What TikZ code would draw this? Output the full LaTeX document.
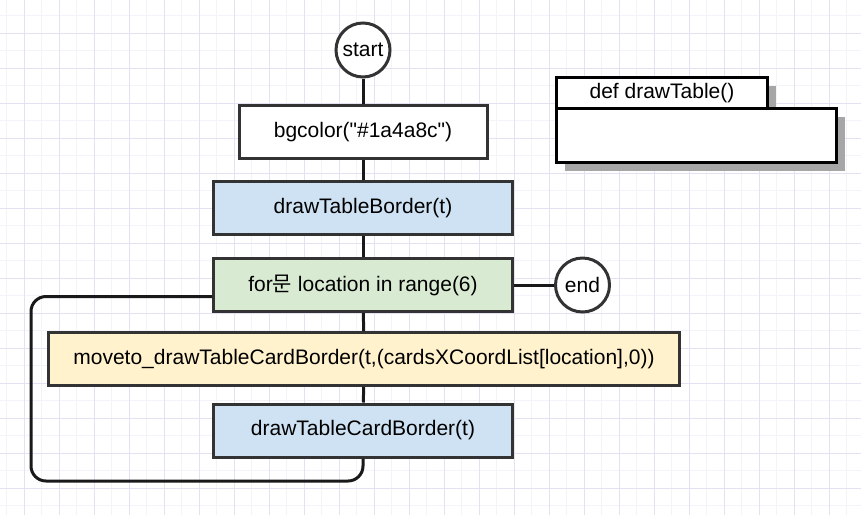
\documentclass[tikz,border=0pt]{standalone}
\usepackage{fontspec}
\setmainfont{Liberation Sans}
\newfontfamily\plainquote{Liberation Sans}
\newfontfamily\krfont{Noto Sans CJK KR}
\usetikzlibrary{shapes.geometric, shadows}
\definecolor{edgegray}{HTML}{333333}
\definecolor{gridmajor}{HTML}{E4E2F2}
\definecolor{gridminor}{HTML}{F4F3F9}
\definecolor{boxblue}{RGB}{207,226,243}
\definecolor{boxgreen}{RGB}{217,234,211}
\definecolor{boxyellow}{RGB}{255,242,204}
\newcommand{\dq}{{\plainquote"}}
\tikzstyle{terminal} = [circle, minimum size=54pt, inner sep=0pt, draw=edgegray, line width=3pt, fill=white, font=\fontsize{21}{24}\selectfont]
\tikzstyle{process} = [rectangle, minimum width=299pt, minimum height=53pt, text centered, draw=edgegray, line width=3pt, font=\fontsize{21}{24}\selectfont]
\tikzstyle{defbox} = [rectangle, draw=black, line width=3pt, fill=white, anchor=north west, inner sep=0pt, drop shadow={shadow xshift=8pt, shadow yshift=-8pt, opacity=1, fill=black!35}]
\tikzstyle{connector} = [line width=3pt, draw=black!90]

\begin{document}
\begin{tikzpicture}[x=1pt, y=-1pt, node distance=76pt]
        \useasboundingbox (0,0) rectangle (861,515);
        \fill[white] (0,0) rectangle (861,515);
        % Grid
        \foreach \gx in {6.5,41.5,...,861} \draw[gridminor, line width=1pt] (\gx,0) -- (\gx,515);
        \foreach \gy in {15.5,50.5,...,515} \draw[gridminor, line width=1pt] (0,\gy) -- (861,\gy);
        \foreach \gx in {24,59,...,861} \draw[gridmajor, line width=1pt] (\gx,0) -- (\gx,515);
        \foreach \gy in {33,68,...,515} \draw[gridmajor, line width=1pt] (0,\gy) -- (861,\gy);

        \node (start) [terminal] at (363,50) {start};
        \node (bgcolor) [process, below of=start, yshift=-6pt, minimum width=248pt, fill=white] {bgcolor(\dq\#1a4a8c\dq)};
        \node (tableborder) [process, below of=bgcolor, fill=boxblue] {drawTableBorder(t)};
        \node (forloop) [process, below of=tableborder, yshift=-1pt, fill=boxgreen] {for{\krfont 문} location in range(6)};
        \node (end) [terminal, right of=forloop, xshift=143.5pt] {end};
        \node (moveto) [process, below of=forloop, yshift=2pt, xshift=1pt, minimum width=631pt, fill=boxyellow] {moveto\_drawTableCardBorder(t,(cardsXCoordList[location],0))};
        \node (cardborder) [process, below of=moveto, yshift=4.5pt, xshift=-1pt, fill=boxblue] {drawTableCardBorder(t)};

        \node (deftab) [defbox, minimum width=211pt, minimum height=31pt, font=\fontsize{21}{24}\selectfont] at (555,76) {def drawTable()};
        \node (defbody) [defbox, minimum width=280pt, minimum height=54pt] at (555,107) {};

        \coordinate (loopcorner) at (31,481);

        % Arrows
        \draw [connector] (start) -- (bgcolor);
        \draw [connector] (bgcolor) -- (tableborder);
        \draw [connector] (tableborder) -- (forloop);
        \draw [connector] (forloop) -- (moveto);
        \draw [connector] (moveto) -- (cardborder);
        \draw [connector] (forloop) -- (end);
        \draw [connector, rounded corners=15pt] (cardborder.south) |- (loopcorner) |- ([yshift=-11.5pt]forloop.west);
\end{tikzpicture}
\end{document}
